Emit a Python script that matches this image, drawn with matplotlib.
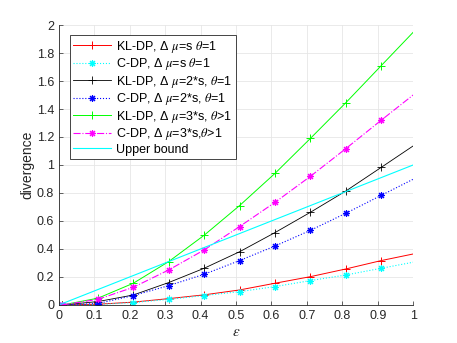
import matplotlib.pyplot as plt

plt.rcParams['font.family'] = ['Liberation Sans', 'DejaVu Sans']
plt.rcParams['mathtext.fontset'] = 'stix'

eps = [0.01, 0.11, 0.21, 0.31, 0.41, 0.51, 0.61, 0.71, 0.81, 0.91, 1.0]

kl_s = [0.0, 0.005, 0.02, 0.045, 0.072, 0.107, 0.155, 0.202, 0.257, 0.317, 0.364]
cdp_s = [0.0, 0.003, 0.017, 0.04, 0.067, 0.095, 0.131, 0.174, 0.214, 0.262, 0.305]
kl_2s = [0.0, 0.024, 0.071, 0.16, 0.262, 0.38, 0.517, 0.662, 0.814, 0.983, 1.136]
cdp_2s = [0.0, 0.01, 0.067, 0.138, 0.219, 0.317, 0.421, 0.533, 0.655, 0.783, 0.898]
kl_3s = [0.0, 0.048, 0.155, 0.31, 0.498, 0.71, 0.94, 1.19, 1.445, 1.71, 1.948]
cdp_3s = [0.0, 0.04, 0.126, 0.25, 0.393, 0.56, 0.733, 0.919, 1.117, 1.32, 1.5]
upper = [0.0, 1.0]
upper_x = [0.0, 1.0]

fig = plt.figure(figsize=(4.57, 3.43), dpi=100)
ax = fig.add_axes([0.129, 0.111, 0.775, 0.816])

ast = (8, 2, 0)
mk = list(range(10))
ax.plot(eps, kl_s, color='#ff0000', lw=0.7, marker='+', ms=6, mew=0.7, markevery=mk,
        label=r'KL-DP, Δ $\mu$=s $\theta$=1')
ax.plot(eps, cdp_s, color='#00ffff', lw=0.8, ls=':', marker=ast, ms=5, mew=0.8, markevery=mk,
        label=r'C-DP, Δ $\mu$=s $\theta$=1')
ax.plot(eps, kl_2s, color='#000000', lw=0.6, marker='+', ms=6, mew=0.6, markevery=mk,
        label=r'KL-DP, Δ $\mu$=2*s, $\theta$=1')
ax.plot(eps, cdp_2s, color='#0000ff', lw=0.8, ls=':', marker=ast, ms=5, mew=0.8, markevery=mk,
        label=r'C-DP, Δ $\mu$=2*s, $\theta$=1')
ax.plot(eps, kl_3s, color='#00ff00', lw=0.7, marker='+', ms=6, mew=0.7, markevery=mk,
        label=r'KL-DP, Δ $\mu$=3*s, $\theta$>1')
ax.plot(eps, cdp_3s, color='#ff00ff', lw=0.8, ls='-.', marker=ast, ms=5, mew=0.8, markevery=mk,
        label=r'C-DP, Δ $\mu$=3*s,$\theta$>1')
ax.plot(upper_x, upper, color='#00ffff', lw=0.8, label='Upper bound')

ax.set_xlim(0, 1)
ax.set_ylim(0, 2)
ax.set_xticks([i / 10 for i in range(11)])
ax.set_xticklabels(['0', '0.1', '0.2', '0.3', '0.4', '0.5', '0.6', '0.7', '0.8', '0.9', '1'])
ax.set_yticks([i / 5 for i in range(11)])
ax.set_yticklabels(['0', '0.2', '0.4', '0.6', '0.8', '1', '1.2', '1.4', '1.6', '1.8', '2'])
ax.tick_params(direction='in', labelsize=9, colors='#262626', length=3, width=0.5)
ax.grid(True, color='#e6e6e6', lw=0.6)
ax.set_axisbelow(True)
for s in ['top', 'right']:
    ax.spines[s].set_visible(False)
for s in ['left', 'bottom']:
    ax.spines[s].set_color('#262626')
    ax.spines[s].set_linewidth(0.6)

ax.set_xlabel(r'$\varepsilon$', fontsize=11, color='#262626', labelpad=2)
ax.set_ylabel('divergence', fontsize=10, color='#262626', labelpad=2)

leg = ax.legend(loc='upper left', bbox_to_anchor=(0.03, 0.965), fontsize=9, frameon=True,
                fancybox=False, framealpha=1, edgecolor='#262626', handlelength=3.0,
                borderpad=0.3, labelspacing=0.12, handletextpad=0.4, borderaxespad=0)
leg.get_frame().set_linewidth(0.6)

fig.savefig('out.png', dpi=100)
